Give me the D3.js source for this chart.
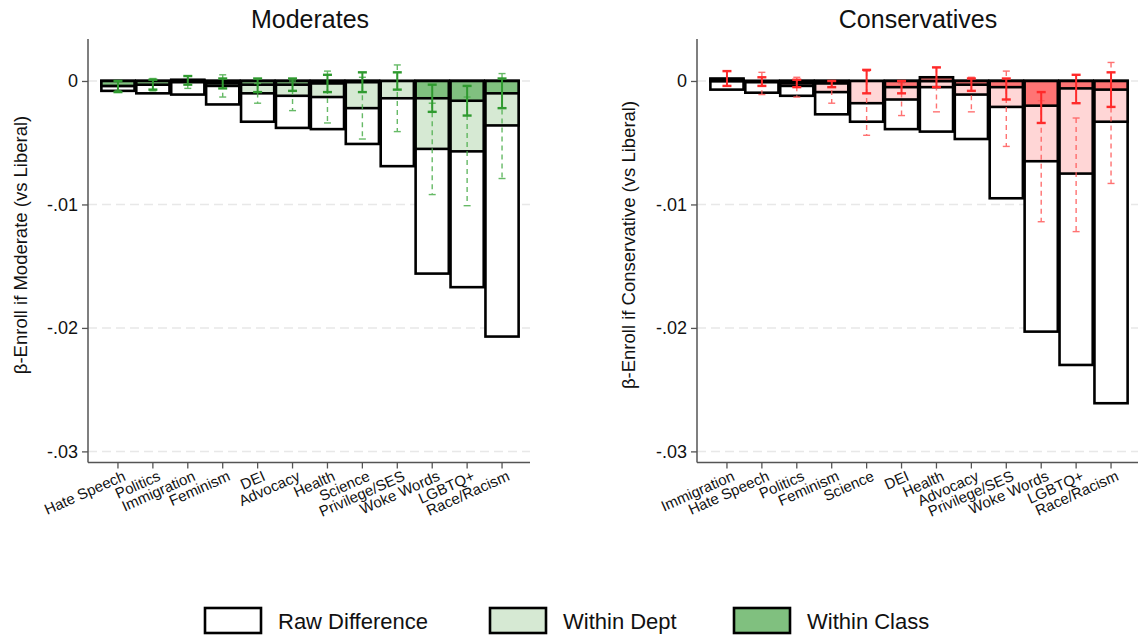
<!DOCTYPE html>
<html>
<head>
<meta charset="utf-8">
<script src="https://cdn.jsdelivr.net/npm/d3@7"></script>
<style>
  body { margin: 0; background: #fff; }
  svg { font-family: "Liberation Sans", Arial, Helvetica, sans-serif; }
</style>
</head>
<body>
<div id="chart"></div>
<script>
// Moderates panel
const modCats = ["Hate Speech", "Politics", "Immigration", "Feminism", "DEI", "Advocacy", "Health", "Science", "Privilege/SES", "Woke Words", "LGBTQ+", "Race/Racism"];
const modRaw = [-0.0008, -0.001, -0.0011, -0.0019, -0.0033, -0.0038, -0.0039, -0.0051, -0.0069, -0.0156, -0.0167, -0.0207];
const modDept = [-0.0004, -0.0003, -0.0001, -0.0004, -0.001, -0.0012, -0.0013, -0.0022, -0.0014, -0.0055, -0.0057, -0.0036];
const modDeptLo = [-0.0008, -0.0008, -0.0006, -0.0013, -0.0018, -0.0024, -0.0034, -0.0047, -0.0041, -0.0092, -0.0101, -0.0079];
const modDeptHi = [0, 0.0002, 0.0004, 0.0005, -0.0002, 0, 0.0008, 0.0003, 0.0013, -0.0018, -0.0013, 0.0006];
const modClass = [-0.0004, -0.0003, 0.0001, -0.0002, -0.0003, -0.0003, -0.0002, -0.0001, 0, -0.0014, -0.0016, -0.001];
const modClassLo = [-0.0009, -0.0007, -0.0003, -0.0006, -0.0009, -0.0008, -0.0009, -0.0009, -0.0007, -0.0025, -0.0028, -0.0022];
const modClassHi = [0, 0.0001, 0.0004, 0.0002, 0.0002, 0.0002, 0.0005, 0.0007, 0.0007, -0.0003, -0.0004, 0.0002];

// Conservatives panel
const conCats = ["Immigration", "Hate Speech", "Politics", "Feminism", "Science", "DEI", "Health", "Advocacy", "Privilege/SES", "Woke Words", "LGBTQ+", "Race/Racism"];
const conRaw = [-0.0007, -0.00095, -0.0012, -0.0027, -0.0033, -0.0039, -0.0041, -0.0047, -0.0095, -0.0203, -0.023, -0.0261];
const conDept = [0.0001, -0.0001, -0.0004, -0.0009, -0.0018, -0.0015, -0.0005, -0.0011, -0.0021, -0.0065, -0.0075, -0.0033];
const conDeptLo = [-0.0004, -0.0011, -0.0013, -0.0018, -0.0044, -0.0028, -0.0025, -0.0025, -0.0053, -0.0114, -0.0122, -0.0083];
const conDeptHi = [0.0008, 0.0007, 0.0003, 0, 0.0008, -0.0002, 0.0011, 0.0003, 0.0008, -0.0016, -0.003, 0.0015];
const conClass = [0.0002, 0, -0.0002, -0.0002, 0, -0.0005, 0.0003, -0.0003, -0.0005, -0.002, -0.0006, -0.0007];
const conClassLo = [-0.0004, -0.0004, -0.0005, -0.0005, -0.001, -0.001, -0.0005, -0.0008, -0.0015, -0.0034, -0.0018, -0.0021];
const conClassHi = [0.0008, 0.0003, 0.0001, 0, 0.0009, 0, 0.0011, 0.0002, 0.0002, -0.0009, 0.0005, 0.0007];

const yTicks = [0, -0.01, -0.02, -0.03];
const legendLabels = ["Raw Difference", "Within Dept", "Within Class"];

const width = 1138, height = 637;
const axisTop = 39, axisBottom = 462.5;

const svg = d3.select("#chart")
  .append("svg")
  .attr("width", width)
  .attr("height", height);

// "-.01" style labels, plain hyphen
const fmt = d => d === 0 ? "0" : d3.format(".2f")(d).replace("−", "-").replace("0.", ".");

function drawPanel(p) {
  const g = svg.append("g");

  const x = d3.scaleBand()
    .domain(p.cats)
    .range([p.x0, p.x1])
    .paddingInner(0.05)
    .paddingOuter(0.025);
  const y = d3.scaleLinear()
    .domain([0.0034, -0.0309])
    .range([axisTop, axisBottom]);

  // dashed gridlines
  g.selectAll(".grid").data(yTicks).join("line")
    .attr("x1", p.axisX).attr("x2", p.xEnd)
    .attr("y1", d => y(d)).attr("y2", d => y(d))
    .attr("stroke", "#e8e8e8").attr("stroke-width", 1.5)
    .attr("stroke-dasharray", "9,5");

  const rows = p.cats.map((c, i) => ({
    cat: c, raw: p.raw[i], dept: p.dept[i], cls: p.cls[i],
    dLo: p.dLo[i], dHi: p.dHi[i], cLo: p.cLo[i], cHi: p.cHi[i]
  }));

  // bars: raw first, then within dept, then within class on top
  const layers = [
    { key: "raw", fill: "#ffffff" },
    { key: "dept", fill: p.light },
    { key: "cls", fill: p.dark }
  ];
  for (const L of layers) {
    g.append("g").selectAll("rect").data(rows).join("rect")
      .attr("x", d => x(d.cat))
      .attr("width", x.bandwidth())
      .attr("y", d => y(Math.max(0, d[L.key])))
      .attr("height", d => Math.abs(y(d[L.key]) - y(0)))
      .attr("fill", L.fill)
      .attr("stroke", "#000")
      .attr("stroke-width", 2.6);
  }

  const cx = d => x(d.cat) + x.bandwidth() / 2;

  // within dept CI (dashed)
  const dg = g.append("g").attr("stroke", p.errLight).attr("stroke-width", 1.4).attr("opacity", 0.85);
  dg.selectAll(".v").data(rows).join("line")
    .attr("x1", cx).attr("x2", cx)
    .attr("y1", d => y(d.dHi)).attr("y2", d => y(d.dLo))
    .attr("stroke-dasharray", "5,4");
  dg.selectAll(".lo").data(rows).join("line")
    .attr("x1", d => cx(d) - 3.5).attr("x2", d => cx(d) + 3.5)
    .attr("y1", d => y(d.dLo)).attr("y2", d => y(d.dLo));
  dg.selectAll(".hi").data(rows).join("line")
    .attr("x1", d => cx(d) - 3.5).attr("x2", d => cx(d) + 3.5)
    .attr("y1", d => y(d.dHi)).attr("y2", d => y(d.dHi));

  // within class CI (solid)
  const sg = g.append("g").attr("stroke", p.err).attr("stroke-width", 2);
  sg.selectAll(".v").data(rows).join("line")
    .attr("x1", cx).attr("x2", cx)
    .attr("y1", d => y(d.cHi)).attr("y2", d => y(d.cLo));
  sg.selectAll(".lo").data(rows).join("line")
    .attr("x1", d => cx(d) - 4.5).attr("x2", d => cx(d) + 4.5)
    .attr("y1", d => y(d.cLo)).attr("y2", d => y(d.cLo))
    .attr("stroke-width", 2.4);
  sg.selectAll(".hi").data(rows).join("line")
    .attr("x1", d => cx(d) - 4.5).attr("x2", d => cx(d) + 4.5)
    .attr("y1", d => y(d.cHi)).attr("y2", d => y(d.cHi))
    .attr("stroke-width", 2.4);

  // y axis
  const ya = g.append("g")
    .attr("transform", `translate(${p.axisX},0)`)
    .call(d3.axisLeft(y).tickValues(yTicks).tickFormat(fmt).tickSize(6).tickPadding(4));
  ya.select(".domain").remove();
  ya.selectAll(".tick line").attr("stroke", "#555").attr("stroke-width", 1.3);
  ya.selectAll(".tick text").attr("font-size", 18).attr("fill", "#111")
    .attr("font-family", "Liberation Sans, Arial, sans-serif");

  // x axis
  const xa = g.append("g")
    .attr("transform", `translate(0,${axisBottom})`)
    .call(d3.axisBottom(x).tickSize(6).tickSizeOuter(0));
  xa.select(".domain").remove();
  xa.selectAll(".tick line").attr("stroke", "#555").attr("stroke-width", 1.3);
  xa.selectAll(".tick text")
    .attr("font-size", 15).attr("fill", "#111")
    .attr("font-family", "Liberation Sans, Arial, sans-serif")
    .attr("text-anchor", "end")
    .attr("transform", "translate(4,7) rotate(-24)")
    .attr("dy", "0.75em").attr("y", 0);

  // axis lines
  g.append("line")
    .attr("x1", p.axisX).attr("x2", p.axisX)
    .attr("y1", axisTop).attr("y2", axisBottom)
    .attr("stroke", "#555").attr("stroke-width", 1.5);
  g.append("line")
    .attr("x1", p.axisX).attr("x2", p.xEnd)
    .attr("y1", axisBottom).attr("y2", axisBottom)
    .attr("stroke", "#555").attr("stroke-width", 1.5);

  // title
  g.append("text")
    .attr("x", p.titleX).attr("y", 28)
    .attr("text-anchor", "middle")
    .attr("font-size", 25).attr("fill", "#111")
    .text(p.title);

  // y label
  g.append("text")
    .attr("transform", `translate(${p.labelX},245) rotate(-90)`)
    .attr("text-anchor", "middle")
    .attr("font-size", 18.5).attr("fill", "#111")
    .text(p.ylabel);
}

drawPanel({
  title: "Moderates", titleX: 310,
  ylabel: "β-Enroll if Moderate (vs Liberal)", labelX: 27,
  cats: modCats, raw: modRaw, dept: modDept, cls: modClass,
  dLo: modDeptLo, dHi: modDeptHi, cLo: modClassLo, cHi: modClassHi,
  axisX: 88, x0: 100.5, x1: 519.5, xEnd: 530,
  light: "#d6e9d3", dark: "#80c07f", err: "#2f9a2f", errLight: "#4caf4c"
});

drawPanel({
  title: "Conservatives", titleX: 918,
  ylabel: "β-Enroll if Conservative (vs Liberal)", labelX: 635,
  cats: conCats, raw: conRaw, dept: conDept, cls: conClass,
  dLo: conDeptLo, dHi: conDeptHi, cLo: conClassLo, cHi: conClassHi,
  axisX: 697, x0: 709.5, x1: 1128.5, xEnd: 1138,
  light: "#ffd6d6", dark: "#ff7474", err: "#ff2a2a", errLight: "#ff5a5a"
});

// legend
const legendFills = ["#ffffff", "#d6e9d3", "#80c07f"];
const legendX = [205, 490, 734];
const lg = svg.append("g");
lg.selectAll("rect").data(legendLabels).join("rect")
  .attr("x", (d, i) => legendX[i]).attr("y", 608)
  .attr("width", 56).attr("height", 25)
  .attr("fill", (d, i) => legendFills[i])
  .attr("stroke", "#000").attr("stroke-width", 2.6);
lg.selectAll("text").data(legendLabels).join("text")
  .attr("x", (d, i) => legendX[i] + 73).attr("y", 629)
  .attr("font-size", 22).attr("fill", "#111")
  .text(d => d);
</script>
</body>
</html>
